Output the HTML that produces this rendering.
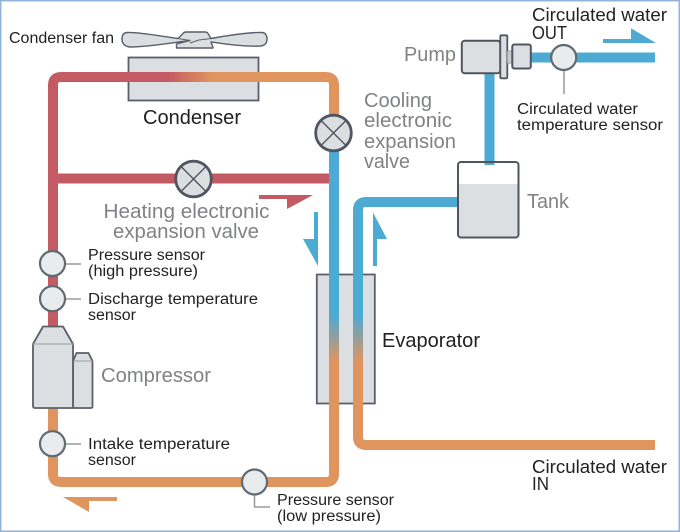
<!DOCTYPE html>
<html>
<head>
<meta charset="utf-8">
<style>
html,body{margin:0;padding:0;background:#fff;}
svg{display:block;}
text{font-family:"Liberation Sans",sans-serif;}
.k{fill:#222;}
.g{fill:#808285;}
.s{font-size:15.5px;}
.l{font-size:20px;}
.m{font-size:18px;}
.art{filter:blur(0.35px);}
</style>
</head>
<body>
<svg width="680" height="532" viewBox="0 0 680 532" xmlns="http://www.w3.org/2000/svg">
<defs>
<linearGradient id="h" gradientUnits="userSpaceOnUse" x1="168" y1="0" x2="212" y2="0">
<stop offset="0" stop-color="#c45a63"/><stop offset="1" stop-color="#e0955f"/>
</linearGradient>
<linearGradient id="v" gradientUnits="userSpaceOnUse" x1="0" y1="315" x2="0" y2="362">
<stop offset="0" stop-color="#4daad3"/><stop offset="1" stop-color="#e0955f"/>
</linearGradient>
</defs>
<rect width="680" height="532" fill="#fff"/>
<rect x="0.75" y="0.75" width="678.5" height="530.5" fill="none" stroke="#95b3d7" stroke-width="1.5"/>
<g class="art">

<!-- Condenser and evaporator bodies -->
<rect x="128.5" y="57.5" width="130" height="43" fill="#dcdfe2" stroke="#5a5f6b" stroke-width="1.8"/>
<rect x="316.8" y="274.5" width="58" height="129" fill="#dcdfe2" stroke="#5a5f6b" stroke-width="1.8"/>

<!-- Pipes -->
<path d="M53,330V85Q53,77 61,77H326Q334,77 334,85V135" fill="none" stroke="url(#h)" stroke-width="10"/>
<path d="M53,178.5H330" fill="none" stroke="#c45a63" stroke-width="10"/>
<path d="M334,133V474Q334,482 326,482H61Q53,482 53,474V405" fill="none" stroke="url(#v)" stroke-width="10"/>
<path d="M655,445H366Q358,445 358,437V210Q358,202 366,202H460" fill="none" stroke="url(#v)" stroke-width="10"/>
<path d="M489.5,70V165" fill="none" stroke="#4daad3" stroke-width="10"/>
<path d="M528,57.5H655" fill="none" stroke="#4daad3" stroke-width="10"/>

<!-- Fan -->
<path d="M127,32.5C140,32 165,37 178,38.5L183,33.5Q184,32 186,32H205Q207,32 208,33.5L211,38.5C225,36 250,32 262,32.5Q267,33 267,39Q267,45 261,46C245,47 225,44 211,42L213,47.5V48H176.5V44L190,40.5L179,42C165,44 145,47 130,47Q122,46 122,39Q122,33 127,32.5Z" fill="#dcdfe2" stroke="#5a5f6b" stroke-width="1.4" stroke-linejoin="round"/>
<path d="M178,38.5L190,40.5M199,40L211,38.5M199,40L190,43" fill="none" stroke="#5a5f6b" stroke-width="1.1"/>

<!-- Pump -->
<rect x="461.8" y="40.8" width="38.5" height="32.5" rx="3" fill="#dcdfe2" stroke="#50555f" stroke-width="2"/>
<rect x="500.3" y="35.3" width="7" height="43" rx="1" fill="#dcdfe2" stroke="#50555f" stroke-width="1.8"/>
<rect x="507.3" y="51" width="5" height="12" fill="#c9cdd1" stroke="#8a8e95" stroke-width="0.8"/>
<rect x="512.3" y="44.5" width="18.5" height="24" rx="2" fill="#dcdfe2" stroke="#50555f" stroke-width="2"/>

<!-- Tank -->
<path d="M458,184H518.5V234Q518.5,237.5 515,237.5H461.5Q458,237.5 458,234Z" fill="#dcdfe2"/>
<rect x="458" y="162" width="60.5" height="75.5" rx="3" fill="none" stroke="#50555f" stroke-width="2"/>

<!-- Compressor -->
<path d="M73,361L76.5,353H88.5L92.5,361V406.5Q92.5,408 91,408H73Z" fill="#dcdfe2" stroke="#5a5f6b" stroke-width="1.8" stroke-linejoin="round"/>
<path d="M73,361H92.5" stroke="#a5a9ae" stroke-width="1.2"/>
<path d="M33,344L43,326.5H63L73,344V408H35Q33,408 33,406Z" fill="#dcdfe2" stroke="#5a5f6b" stroke-width="1.8" stroke-linejoin="round"/>
<path d="M33,344H73" stroke="#a5a9ae" stroke-width="1.2"/>

<!-- Leader lines -->
<g stroke="#999" stroke-width="1.5" fill="none">
<path d="M60,264H81"/>
<path d="M60,299H81"/>
<path d="M60,444H81"/>
<path d="M254.5,490V507H270"/>
<path d="M564,65V94"/>
</g>

<!-- Sensors -->
<g fill="#e8ecef" stroke="#5f6b72" stroke-width="2.2">
<circle cx="52.5" cy="263.5" r="12.5"/>
<circle cx="52.5" cy="298.7" r="12.5"/>
<circle cx="52.5" cy="443.7" r="12.5"/>
<circle cx="254.5" cy="482" r="12.5"/>
<circle cx="563.7" cy="57.5" r="12.5"/>
</g>

<!-- Valves -->
<g fill="#dcdfe2" stroke="#50555f" stroke-width="2.8">
<circle cx="193.5" cy="179" r="17.8"/>
<circle cx="333.5" cy="133" r="17.8"/>
</g>
<g stroke="#50555f" stroke-width="1.4">
<path d="M181,166.5L206,191.5M206,166.5L181,191.5"/>
<path d="M321,120.5L346,145.5M346,120.5L321,145.5"/>
</g>

<!-- Flow arrows -->
<polygon points="259,195 313,195 287,209 287,199 259,199" fill="#c45a63"/>
<polygon points="314,212 318,212 318,266 303,239 314,239" fill="#4daad3"/>
<polygon points="373,212.5 387,239 377,239 377,266 373,266" fill="#4daad3"/>
<polygon points="603,39 631,39 631,28.3 656,43 603,43" fill="#4daad3"/>
<polygon points="63,497 117,497 117,501 89,501 89,512" fill="#e0955f"/>

<!-- Labels -->
<text class="k s" x="9" y="43" textLength="105" lengthAdjust="spacingAndGlyphs">Condenser fan</text>
<text class="k l" x="143" y="124" textLength="98" lengthAdjust="spacingAndGlyphs">Condenser</text>

<text class="g l" x="364" y="107" textLength="68" lengthAdjust="spacingAndGlyphs">Cooling</text>
<text class="g l" x="364" y="127" textLength="88" lengthAdjust="spacingAndGlyphs">electronic</text>
<text class="g l" x="364" y="148" textLength="92" lengthAdjust="spacingAndGlyphs">expansion</text>
<text class="g l" x="364" y="168" textLength="46" lengthAdjust="spacingAndGlyphs">valve</text>

<text class="g l" x="103.5" y="218" textLength="166" lengthAdjust="spacingAndGlyphs">Heating electronic</text>
<text class="g l" x="113" y="238" textLength="146" lengthAdjust="spacingAndGlyphs">expansion valve</text>

<text class="k s" x="88" y="260" textLength="117" lengthAdjust="spacingAndGlyphs">Pressure sensor</text>
<text class="k s" x="88" y="276" textLength="110" lengthAdjust="spacingAndGlyphs">(high pressure)</text>
<text class="k s" x="88" y="304" textLength="170" lengthAdjust="spacingAndGlyphs">Discharge temperature</text>
<text class="k s" x="88" y="320" textLength="48" lengthAdjust="spacingAndGlyphs">sensor</text>

<text class="g l" x="101" y="382" textLength="110" lengthAdjust="spacingAndGlyphs">Compressor</text>

<text class="k s" x="88" y="449" textLength="142" lengthAdjust="spacingAndGlyphs">Intake temperature</text>
<text class="k s" x="88" y="465" textLength="48" lengthAdjust="spacingAndGlyphs">sensor</text>

<text class="k s" x="277" y="505" textLength="117" lengthAdjust="spacingAndGlyphs">Pressure sensor</text>
<text class="k s" x="277" y="521" textLength="104" lengthAdjust="spacingAndGlyphs">(low pressure)</text>

<text class="k l" x="382" y="347" textLength="98" lengthAdjust="spacingAndGlyphs">Evaporator</text>

<text class="k m" x="532" y="473" textLength="135" lengthAdjust="spacingAndGlyphs">Circulated water</text>
<text class="k m" x="532" y="490" textLength="17" lengthAdjust="spacingAndGlyphs">IN</text>

<text class="k m" x="532" y="21" textLength="135" lengthAdjust="spacingAndGlyphs">Circulated water</text>
<text class="k m" x="532" y="39" textLength="35" lengthAdjust="spacingAndGlyphs">OUT</text>

<text class="g l" x="404" y="61" textLength="52" lengthAdjust="spacingAndGlyphs">Pump</text>
<text class="g l" x="527" y="208" textLength="42" lengthAdjust="spacingAndGlyphs">Tank</text>

<text class="k s" x="517" y="114" textLength="121" lengthAdjust="spacingAndGlyphs">Circulated water</text>
<text class="k s" x="517" y="130" textLength="146" lengthAdjust="spacingAndGlyphs">temperature sensor</text>
</g>
</svg>
</body>
</html>
